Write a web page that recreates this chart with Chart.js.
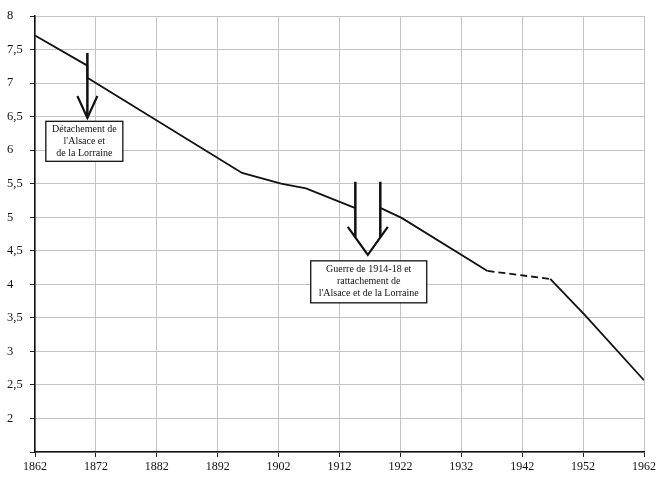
<!DOCTYPE html>
<html>
<head>
<meta charset="utf-8">
<script src="https://cdn.jsdelivr.net/npm/chart.js@4/dist/chart.umd.min.js"></script>
<style>
  body { margin: 0; background: #fff; }
  #graphique { display: block; }
</style>
</head>
<body>
<canvas id="graphique" width="659" height="477"></canvas>
<script>
// années et valeurs (null = ligne interrompue par la flèche)
const annees = [1862, 1870.6, 1870.6, 1896, 1902.4, 1906.5, 1914.5, 1916.5, 1918.7, 1922.2, 1936.3, 1946.6, 1952.3, 1962];
const valeurs = [7.71, 7.26, 7.08, 5.66, 5.5, 5.43, 5.14, null, 5.14, 4.99, 4.2, 4.08, 3.54, 2.57];
const segmentPointille = 10; // 1936 -> 1946 en tirets

const ticksX = [1862, 1872, 1882, 1892, 1902, 1912, 1922, 1932, 1942, 1952, 1962];
const ticksY = [2, 2.5, 3, 3.5, 4, 4.5, 5, 5.5, 6, 6.5, 7, 7.5, 8];

const texteAlsace = ['Détachement de', "l'Alsace et", 'de la Lorraine'];
const texteGuerre = ['Guerre de 1914-18 et', 'rattachement de', "l'Alsace et de la Lorraine"];

const police = '"Liberation Serif", "DejaVu Serif", serif';

function boite(ctx, cx, top, w, h, lignes) {
  ctx.save();
  ctx.fillStyle = '#fff';
  ctx.strokeStyle = '#111';
  ctx.lineWidth = 1.3;
  ctx.fillRect(cx - w / 2, top, w, h);
  ctx.strokeRect(cx - w / 2, top, w, h);
  ctx.fillStyle = '#111';
  ctx.font = '10px ' + police;
  ctx.textAlign = 'center';
  ctx.textBaseline = 'middle';
  lignes.forEach((l, i) => {
    ctx.fillText(l, cx, top + h / 2 + (i - (lignes.length - 1) / 2) * 12);
  });
  ctx.restore();
}

const annotations = {
  id: 'annotations',
  afterDatasetsDraw(chart) {
    const { ctx, scales: { x, y } } = chart;
    ctx.save();
    ctx.strokeStyle = '#111';
    ctx.lineCap = 'butt';

    // flèche simple 1871
    const xa = x.getPixelForValue(1870.6);
    const ya0 = y.getPixelForValue(7.45);
    const ya1 = y.getPixelForValue(6.48);
    ctx.lineWidth = 2.5;
    ctx.beginPath();
    ctx.moveTo(xa, ya0);
    ctx.lineTo(xa, ya1);
    ctx.stroke();
    ctx.lineWidth = 2.2;
    ctx.beginPath();
    ctx.moveTo(xa - 10, ya1 - 22);
    ctx.lineTo(xa, ya1);
    ctx.lineTo(xa + 10, ya1 - 22);
    ctx.stroke();

    // grande flèche 1914-18
    const xg = x.getPixelForValue(1914.6);
    const xd = x.getPixelForValue(1918.7);
    const yh = y.getPixelForValue(5.53);
    const yp = y.getPixelForValue(4.44);
    const xm = (xg + xd) / 2;
    const demi = 20, haut = 28;
    const pente = haut / demi;
    const yBasG = yp - (xm - xg) * pente;
    ctx.lineWidth = 2.5;
    ctx.beginPath();
    ctx.moveTo(xg, yh);
    ctx.lineTo(xg, yBasG);
    ctx.moveTo(xd, yh);
    ctx.lineTo(xd, yBasG);
    ctx.stroke();
    ctx.lineWidth = 2.2;
    ctx.beginPath();
    ctx.moveTo(xm - demi, yp - haut);
    ctx.lineTo(xm, yp);
    ctx.lineTo(xm + demi, yp - haut);
    ctx.stroke();
    ctx.restore();

    boite(ctx, x.getPixelForValue(1870.1), y.getPixelForValue(6.43), 77, 40, texteAlsace);
    boite(ctx, x.getPixelForValue(1916.8), y.getPixelForValue(4.35), 116, 42, texteGuerre);
  }
};

new Chart(document.getElementById('graphique').getContext('2d'), {
  type: 'line',
  data: {
    datasets: [{
      data: annees.map((a, i) => ({ x: a, y: valeurs[i] })),
      borderColor: '#111',
      borderWidth: 1.8,
      pointRadius: 0,
      tension: 0,
      spanGaps: false,
      segment: {
        borderDash: c => c.p0DataIndex === segmentPointille ? [7, 4] : undefined
      }
    }]
  },
  options: {
    responsive: false,
    animation: false,
    devicePixelRatio: 1,
    layout: { padding: { top: 16, right: 13, left: 7, bottom: 0 } },
    plugins: { legend: { display: false }, tooltip: { enabled: false } },
    scales: {
      x: {
        type: 'linear',
        min: 1862,
        max: 1962,
        afterBuildTicks: s => { s.ticks = ticksX.map(v => ({ value: v })); },
        afterFit: s => { s.height = 25; },
        ticks: {
          callback: v => String(v),
          color: '#111',
          font: { family: police, size: 12 },
          padding: 3,
          maxRotation: 0,
          autoSkip: false
        },
        grid: { color: '#c4c4c4', lineWidth: 1, tickLength: 5, tickColor: '#222' },
        border: { color: '#111', width: 1.5 }
      },
      y: {
        min: 1.5,
        max: 8,
        afterBuildTicks: s => { s.ticks = [1.5].concat(ticksY).map(v => ({ value: v })); },
        afterFit: s => { s.width = 28; },
        ticks: {
          callback: v => v === 1.5 ? '' : String(v).replace('.', ','),
          color: '#111',
          crossAlign: 'far',
          font: { family: police, size: 12.5 },
          autoSkip: false
        },
        grid: { color: '#c4c4c4', lineWidth: 1, tickLength: 5, tickColor: '#222' },
        border: { color: '#111', width: 1.5 }
      }
    }
  },
  plugins: [annotations]
});
</script>
</body>
</html>
